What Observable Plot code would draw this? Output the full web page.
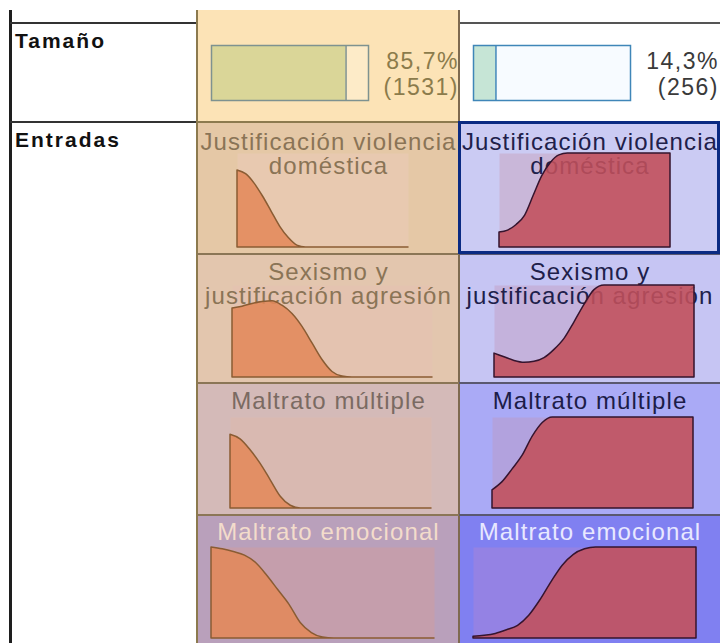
<!DOCTYPE html>
<html><head><meta charset="utf-8">
<script src="https://cdn.jsdelivr.net/npm/d3@7"></script>
<script src="https://cdn.jsdelivr.net/npm/@observablehq/plot@0.6"></script>
<style>
html,body{margin:0;padding:0;background:#fff;}
#root{position:relative;width:720px;height:643px;overflow:hidden;font-family:"Liberation Sans",Arial,sans-serif;}
.abs{position:absolute;}
.lbl{position:absolute;white-space:nowrap;font-weight:bold;font-size:21px;letter-spacing:2px;line-height:24px;color:#111;}
.pct{position:absolute;white-space:nowrap;font-size:23px;letter-spacing:1.5px;line-height:26px;text-align:right;}
</style></head><body><div id="root"></div>
<script>
// ---------- data ----------
const clusters = ["1", "2"];
const sizePct = [85.7, 14.3];
const sizeN = [1531, 256];
const rowLabels = ["Tamaño", "Entradas"];
const inputs = [
  "Justificación violencia\ndoméstica",
  "Sexismo y\njustificación agresión",
  "Maltrato múltiple",
  "Maltrato emocional"
];
// shared x grid (fraction of the variable's range)
const xGrid = [0,0.05,0.1,0.15,0.2,0.25,0.3,0.35,0.4,0.45,0.5,0.55,0.6,0.65,0.7,0.75,0.8,0.85,0.9,0.95,1];
// cluster 1 distributions (relative height)
const c1JustViol = [0.82,0.78,0.68,0.54,0.38,0.22,0.10,0.02,0,0,0,0,0,0,0,0,0,0,0,0,0];
const c1Sexismo  = [0.75,0.77,0.80,0.82,0.83,0.78,0.69,0.55,0.37,0.19,0.06,0.01,0,0,0,0,0,0,0,0,0];
const c1Multiple = [0.81,0.76,0.64,0.49,0.31,0.13,0.03,0,0,0,0,0,0,0,0,0,0,0,0,0,0];
const c1Emocion  = [1.0,0.98,0.95,0.91,0.83,0.69,0.53,0.37,0.17,0.06,0.01,0,0,0,0,0,0,0,0,0,0];
// cluster 2 distributions
const c2JustViol = [0.16,0.18,0.24,0.34,0.55,0.76,0.90,0.98,1,1,1,1,1,1,1,1,1,1,1,1,1];
const c2Sexismo  = [0.26,0.22,0.18,0.16,0.17,0.21,0.30,0.42,0.60,0.79,0.95,1,1,1,1,1,1,1,1,1,1];
const c2Multiple = [0.20,0.29,0.43,0.58,0.79,0.94,1,1,1,1,1,1,1,1,1,1,1,1,1,1,1];
const c2Emocion  = [0.02,0.03,0.05,0.09,0.14,0.25,0.42,0.62,0.80,0.92,0.98,1,1,1,1,1,1,1,1,1,1];
const curves = [
  [c1JustViol, c2JustViol],
  [c1Sexismo, c2Sexismo],
  [c1Multiple, c2Multiple],
  [c1Emocion, c2Emocion]
];

// ---------- layout & style ----------
const FONT = '"Liberation Sans", Arial, sans-serif';
const cols = [{x: 197, w: 262}, {x: 459, w: 261}];
const rows = [{y: 122, h: 132}, {y: 254, h: 129}, {y: 383, h: 132}, {y: 515, h: 130}];
const titleCenter = [141, 271, 400, 531];
const boxes = [
  {dx: 40, top: 153, w: 171, h: 94},
  {dx: 35, top: 285, w: 200, h: 92},
  {dx: 33, top: 417, w: 201, h: 91},
  {dx: 14, top: 547, w: 223, h: 91}
];
const cellBg = [["#E5C8A6", "#CBCBF3"], ["#E3C6AE", "#C6C5F3"], ["#D4BAB8", "#AAAAF6"], ["#B9A0BB", "#8080F1"]];
const plotBg = [["#E8C9B0", "#C9B7D9"], ["#E4C3B0", "#C4B2DC"], ["#D9B9B1", "#B2A2DE"], ["#C59EAC", "#9482E4"]];
const textCol = [["#8A7456", "#20204A"], ["#8A7456", "#20204A"], ["#7A6A62", "#1C1C48"], ["#F3DCCB", "#E8E8FF"]];
const areaFill = ["#E2895A", "#C1505B"];
const areaStroke = ["#8A5C33", "#35142E"];

const root = document.getElementById("root");
function div(x, y, w, h, css) {
  const d = document.createElement("div");
  d.className = "abs";
  Object.assign(d.style, {left: x + "px", top: y + "px", width: w + "px", height: h + "px"}, css || {});
  root.appendChild(d);
  return d;
}
function place(node, x, y) {
  node.style.position = "absolute";
  node.style.left = x + "px";
  node.style.top = y + "px";
  root.appendChild(node);
}

// header area backgrounds
div(197, 10, 262, 112, {background: "#FCE3B6"});

// cell backgrounds
rows.forEach((r, i) => cols.forEach((c, j) => div(c.x, r.y, c.w, r.h, {background: cellBg[i][j]})));

// size bars
const barBg = ["#FDEBC8", "#F7FBFF"];
const barFill = ["#DAD698", "#C6E5D6"];
const barStroke = ["#7E9290", "#3F86B8"];
const barOff = [14, 14];
clusters.forEach((k, j) => {
  const p = Plot.plot({
    width: 157, height: 55, margin: 0,
    x: {domain: [0, 100], axis: null},
    style: {background: "transparent", overflow: "visible"},
    marks: [
      Plot.frame({fill: barBg[j], stroke: null}),
      Plot.barX([sizePct[j]], {x1: 0, x2: d => d, fill: barFill[j], inset: 0}),
      Plot.ruleX([sizePct[j]], {x: d => d, stroke: barStroke[j], strokeWidth: 1.5}),
      Plot.frame({stroke: barStroke[j], strokeWidth: 1.5})
    ]
  });
  place(p, cols[j].x + barOff[j], 45);
  const t = document.createElement("div");
  t.className = "pct";
  t.style.right = (720 - (cols[j].x + cols[j].w) - (j === 0 ? 0 : -1)) + "px";
  t.style.top = "48px";
  t.style.color = j === 0 ? "#8B7B4B" : "#3A3A3A";
  t.innerHTML = sizePct[j].toFixed(1).replace(".", ",") + "%<br>(" + sizeN[j] + ")";
  root.appendChild(t);
});

// distribution cells
inputs.forEach((name, i) => {
  const b = boxes[i];
  cols.forEach((c, j) => {
    const data = xGrid.map((x, k) => ({x, y: curves[i][j][k]}));
    const dxText = c.w / 2 - b.dx - b.w / 2;
    const dyText = titleCenter[i] - 8.6 - b.top;
    const p = Plot.plot({
      width: b.w, height: b.h, margin: 0,
      x: {domain: [0, 1], axis: null},
      y: {domain: [0, 1], axis: null},
      style: {background: "transparent", overflow: "visible", letterSpacing: "1.1px", fontFamily: FONT},
      marks: [
        Plot.frame({fill: plotBg[i][j], stroke: null}),
        Plot.text([name], {text: d => d, frameAnchor: "top", lineAnchor: "top", dx: dxText, dy: dyText,
          fontSize: 24, lineHeight: 1, fill: textCol[i][j], fontFamily: FONT}),
        Plot.areaY(data, {x: "x", y: "y", curve: "monotone-x", fill: areaFill[j], fillOpacity: 0.88,
          stroke: areaStroke[j], strokeWidth: 1.5})
      ]
    });
    place(p, c.x + b.dx, b.top);
  });
});

// row labels
const lblTops = [29, 128];
rowLabels.forEach((s, i) => {
  const d = document.createElement("div");
  d.className = "lbl";
  d.style.left = "15px";
  d.style.top = lblTops[i] + "px";
  d.textContent = s;
  root.appendChild(d);
});

// grid lines
div(0, 0, 720, 10, {background: "#fff"});
div(9, 10, 3, 633, {background: "#1E1E1E"});
div(10, 22, 187, 2, {background: "#333"});
div(459, 22, 261, 2, {background: "#555"});
div(10, 121, 187, 2, {background: "#333"});
div(197, 121, 262, 2, {background: "#8C7A4E"});
div(196, 10, 2, 633, {background: "#8C7A4E"});
div(458, 10, 2, 633, {background: "#7E6A50"});
[254, 383, 515].forEach(y => {
  div(197, y - 1, 262, 2, {background: "#8B7656"});
  div(459, y - 1, 261, 2, {background: "#5A5870"});
});
// selected cell outline
div(458, 121, 262, 133, {boxSizing: "border-box", border: "3px solid #0A2A82"});
</script></body></html>
